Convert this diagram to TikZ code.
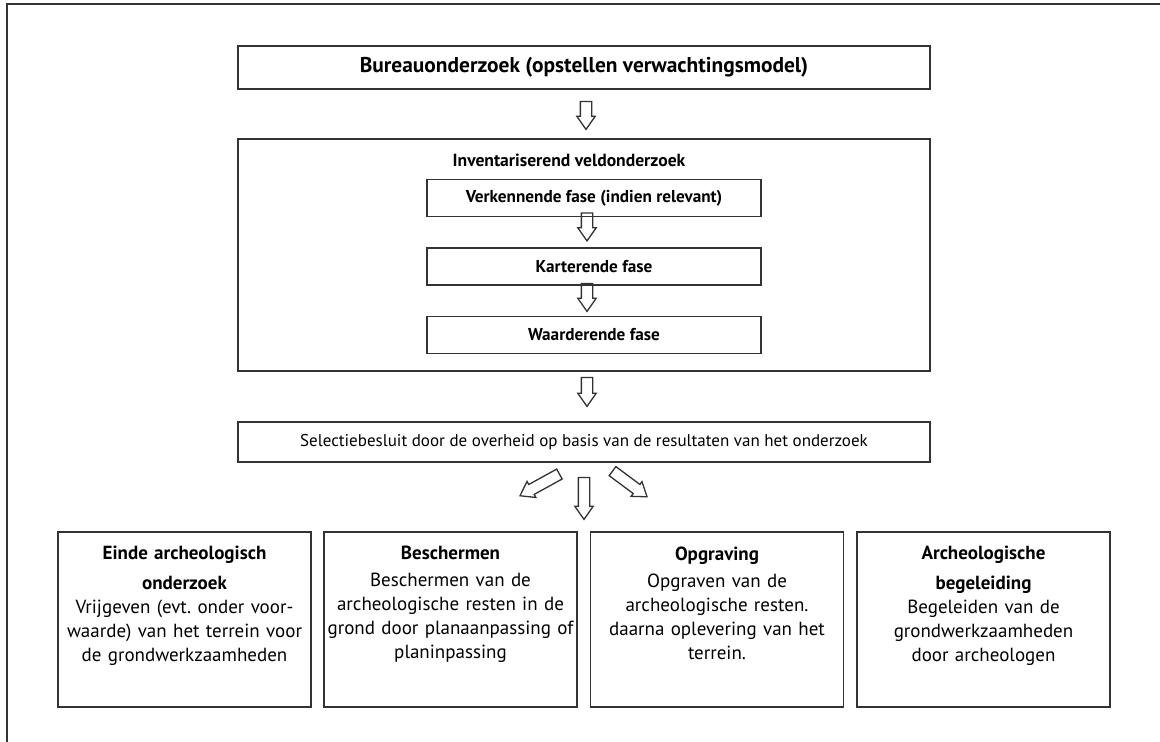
\documentclass[tikz,border=0pt]{standalone}
\usepackage{fontspec}
\setmainfont{PT Sans}
\usetikzlibrary{shapes.arrows}

\newcommand\kop[1]{{\bfseries\fontsize{19}{24}\selectfont #1}}

\begin{document}
\begin{tikzpicture}[x=1pt, y=-1pt,
    box/.style={draw=black!80, line width=1.5pt, inner sep=0pt},
    breed/.style={box, minimum width=692pt},
    fase/.style={box, minimum width=334pt, minimum height=37pt, font=\bfseries\fontsize{17.2}{20}\selectfont},
    uitkomst/.style={box, minimum width=253pt, minimum height=175pt},
    tekst/.style={anchor=north, align=center, text width=250pt, inner sep=0pt, font=\fontsize{19}{24}\selectfont},
    pijl/.style={single arrow, draw=black!80, line width=1.3pt, inner xsep=0pt, inner ysep=5pt,
        minimum width=0pt, single arrow head extend=3.5pt, single arrow tip angle=70, anchor=tail}]
    \fill[white] (0,0) rectangle (1160,742);
    \useasboundingbox (0,0) rectangle (1160,742);
    % frame
    \draw[line width=1.3pt, black!80] (7,742) -- (7,4) -- (1160,4);

    \node[breed, minimum height=43pt, font=\bfseries\fontsize{21.4}{24}\selectfont] (bureau) at (584,67.5)
        {Bureauonderzoek (opstellen verwachtingsmodel)};
    \node[breed, minimum height=232pt] (veld) at (584,255) {};
    \node[font=\bfseries\fontsize{17.6}{20}\selectfont] (veldkop) at (569,160) {Inventariserend veldonderzoek};
    \node[fase] (verkennend) at (594,198) {Verkennende fase (indien relevant)};
    \node[fase] (karterend) at (594,266.5) {Karterende fase};
    \node[fase] (waarderend) at (594,335) {Waarderende fase};
    \node[breed, minimum height=40pt, font=\fontsize{17}{20}\selectfont] (selectie) at (584,442)
        {Selectiebesluit door de overheid op basis van de resultaten van het onderzoek};

    % uitkomsten
    \node[uitkomst] (einde) at (184.5,619.5) {};
    \node[uitkomst] (beschermen) at (450.5,619.5) {};
    \node[uitkomst] (opgraving) at (717,619.5) {};
    \node[uitkomst] (begeleiding) at (983.5,619.5) {};
    \node[tekst] at ([shift={(0,15)}]einde.north)
        {\kop{Einde archeologisch}\\[6pt]\kop{onderzoek}\\[0pt]Vrijgeven (evt.\ onder voor-\\waarde) van het terrein voor\\de grondwerkzaamheden};
    \node[tekst] at ([shift={(0,15)}]beschermen.north)
        {\kop{Beschermen}\\[3pt]Beschermen van de\\archeologische resten in de\\grond door planaanpassing of\\planinpassing};
    \node[tekst] at ([shift={(0,15)}]opgraving.north)
        {\kop{Opgraving}\\[3pt]Opgraven van de\\archeologische resten.\\daarna oplevering van het\\terrein.};
    \node[tekst] at ([shift={(0,15)}]begeleiding.north)
        {\kop{Archeologische}\\[6pt]\kop{begeleiding}\\[0pt]Begeleiden van de\\grondwerkzaamheden\\door archeologen};

    % pijlen
    \node[pijl, minimum height=28pt, rotate=-90] at ([shift={(2,11)}]bureau.south) {};
    \node[pijl, minimum height=28pt, rotate=-90] at ([shift={(-7,-5)}]verkennend.south) {};
    \node[pijl, minimum height=28pt, rotate=-90] at ([shift={(-7,-3)}]karterend.south) {};
    \node[pijl, minimum height=29pt, rotate=-90] at ([shift={(3,5)}]veld.south) {};
    \node[pijl, minimum height=45pt, rotate=208.8] at ([shift={(-24,11)}]selectie.south) {};
    \node[pijl, minimum height=42pt, rotate=-90] at ([shift={(0,14)}]selectie.south) {};
    \node[pijl, minimum height=43pt, rotate=-36.6] at ([shift={(28,8)}]selectie.south) {};
\end{tikzpicture}
\end{document}
